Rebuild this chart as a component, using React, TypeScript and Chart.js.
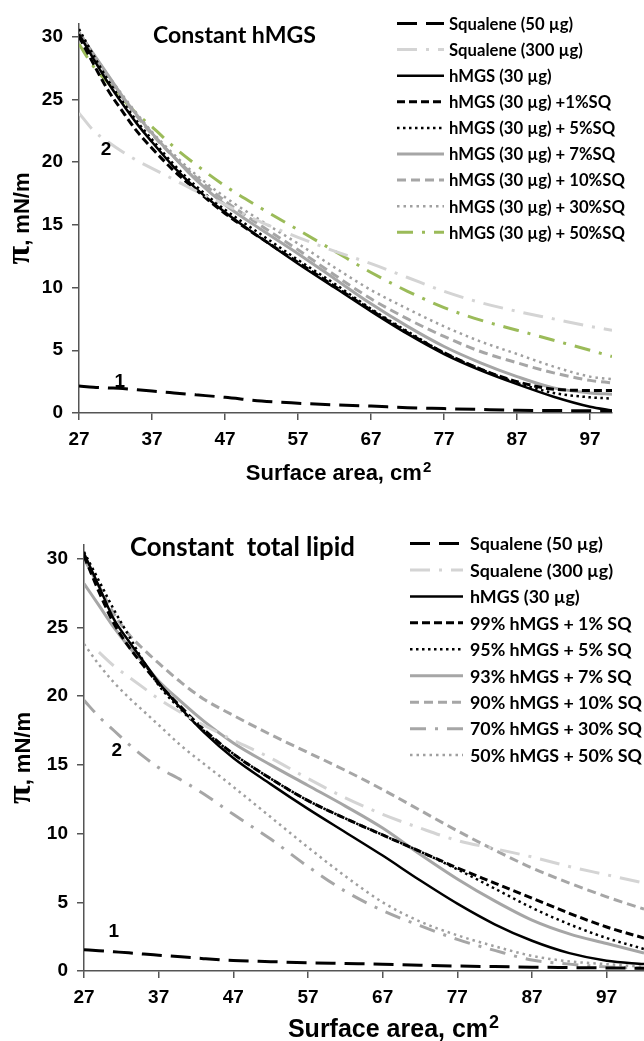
import React, { useEffect, useRef } from 'react';
import { Chart, registerables } from 'chart.js';
Chart.register(...registerables);

// ---------- data: top chart (Constant hMGS) ----------
const topX = [27, 29, 31, 33, 35, 37, 40, 43, 47, 52, 57, 62, 67, 72, 77, 82, 87, 92, 97, 100];
const topSq50 = [2.15, 2.05, 2.0, 1.95, 1.85, 1.75, 1.6, 1.45, 1.25, 0.95, 0.78, 0.65, 0.55, 0.42, 0.35, 0.28, 0.22, 0.2, 0.18, 0.18];
const topSq300 = [23.9, 22.5, 21.6, 20.8, 20.1, 19.5, 18.6, 17.7, 16.6, 15.2, 14.0, 12.9, 11.9, 10.8, 9.7, 8.8, 8.1, 7.5, 6.9, 6.6];
const topHmgs = [30.2, 28.2, 26.3, 24.6, 23.0, 21.6, 19.6, 17.9, 16.0, 13.9, 11.9, 10.0, 8.1, 6.3, 4.7, 3.4, 2.3, 1.3, 0.5, 0.2];
const topSq1 = [30.0, 27.8, 25.7, 24.0, 22.4, 21.1, 19.3, 17.8, 15.9, 13.9, 12.0, 10.1, 8.2, 6.4, 4.8, 3.5, 2.5, 1.9, 1.8, 1.8];
const topSq5 = [30.6, 28.5, 26.5, 24.8, 23.2, 21.8, 19.8, 18.1, 16.2, 14.2, 12.2, 10.3, 8.3, 6.5, 4.8, 3.5, 2.4, 1.6, 1.25, 1.15];
const topSq7 = [30.3, 28.6, 26.9, 25.2, 23.7, 22.3, 20.4, 18.6, 16.6, 14.6, 12.7, 10.7, 8.7, 6.9, 5.3, 4.0, 2.9, 2.0, 1.6, 1.5];
const topSq10 = [30.1, 28.4, 26.7, 25.1, 23.6, 22.2, 20.4, 18.8, 16.9, 14.9, 13.0, 11.0, 9.1, 7.5, 6.1, 4.9, 4.0, 3.2, 2.6, 2.4];
const topSq30 = [30.4, 28.6, 26.9, 25.3, 23.8, 22.4, 20.6, 19.0, 17.2, 15.3, 13.5, 11.6, 9.8, 8.3, 6.9, 5.7, 4.7, 3.7, 2.9, 2.7];
const topSq50p = [29.4, 27.6, 26.3, 25.0, 23.8, 22.8, 21.2, 19.8, 18.1, 16.3, 14.6, 12.9, 11.2, 9.7, 8.4, 7.4, 6.6, 5.8, 5.0, 4.5];
const topLabels = ['Squalene (50 µg)', 'Squalene (300 µg)', 'hMGS (30 µg)', 'hMGS (30 µg) +1%SQ', 'hMGS (30 µg) + 5%SQ', 'hMGS (30 µg) + 7%SQ', 'hMGS (30 µg) + 10%SQ', 'hMGS (30 µg) + 30%SQ', 'hMGS (30 µg) + 50%SQ'];
const topNotes = ['2', '1'];
const topNoteX = [30.7, 32.6];
const topNoteY = [21.0, 2.5];

// ---------- data: bottom chart (Constant total lipid) ----------
const botX = [27, 29, 31, 33, 35, 37, 40, 43, 47, 52, 57, 62, 67, 72, 77, 82, 87, 92, 97, 102];
const botSq50 = [1.55, 1.48, 1.4, 1.32, 1.23, 1.15, 1.03, 0.9, 0.76, 0.68, 0.6, 0.55, 0.5, 0.42, 0.36, 0.32, 0.28, 0.25, 0.22, 0.2];
const botSq300 = [null, 23.2, 22.2, 21.4, 20.6, 19.8, 18.8, 17.9, 16.8, 15.5, 14.0, 12.6, 11.4, 10.4, 9.5, 8.9, 8.3, 7.6, 7.0, 6.4];
const botHmgs = [30.4, 28.0, 25.6, 24.0, 22.5, 21.0, 19.1, 17.4, 15.5, 13.6, 11.8, 10.1, 8.4, 6.6, 4.9, 3.4, 2.2, 1.3, 0.75, 0.5];
const bot99 = [30.2, 27.6, 25.3, 23.6, 22.2, 20.9, 19.2, 17.6, 15.8, 14.0, 12.4, 11.1, 9.9, 8.7, 7.5, 6.4, 5.3, 4.2, 3.2, 2.4];
const bot95 = [30.5, 28.4, 26.3, 24.4, 22.5, 20.8, 19.0, 17.5, 15.8, 14.0, 12.4, 11.1, 9.9, 8.7, 7.4, 6.0, 4.6, 3.4, 2.4, 1.6];
const bot93 = [28.2, 26.6, 25.0, 23.6, 22.4, 21.1, 19.6, 18.2, 16.6, 15.0, 13.5, 12.0, 10.4, 8.5, 6.7, 5.1, 3.7, 2.7, 2.0, 1.3];
const bot90 = [30.0, 28.0, 26.0, 24.5, 23.4, 22.4, 21.0, 19.8, 18.6, 17.2, 15.9, 14.6, 13.2, 11.7, 10.2, 8.8, 7.5, 6.4, 5.4, 4.5];
const bot70 = [19.7, 18.5, 17.5, 16.5, 15.6, 14.8, 13.9, 12.9, 11.4, 9.6, 7.6, 5.8, 4.4, 3.3, 2.3, 1.5, 0.8, 0.5, 0.3, 0.2];
const bot50 = [23.8, 22.3, 21.0, 19.9, 18.9, 17.9, 16.4, 15.1, 13.4, 11.2, 9.0, 6.9, 5.0, 3.6, 2.6, 1.8, 1.1, 0.7, 0.5, 0.3];
const botLabels = ['Squalene (50 µg)', 'Squalene (300 µg)', 'hMGS (30 µg)', '99% hMGS + 1% SQ', '95% hMGS + 5% SQ', '93% hMGS + 7% SQ', '90% hMGS + 10% SQ', '70% hMGS + 30% SQ', '50% hMGS + 50% SQ'];
const botNotes = ['2', '1'];
const botNoteX = [31.4, 31.0];
const botNoteY = [16.0, 2.85];

// ---------- shared axis ticks ----------
const xTicks = [27, 37, 47, 57, 67, 77, 87, 97];
const yTicks = [0, 5, 10, 15, 20, 25, 30];

// ---------- styles ----------
const BLACK = '#000000';
const GRAY = '#a6a6a6';
const LGRAY = '#d4d4d4';
const DGRAY_DOT = '#a0a0a0';
const GREEN = '#9bbb59';
const styleSq50 = { color: BLACK, dash: [20, 9], width: 3 };
const styleSq300 = { color: LGRAY, dash: [20, 9, 3, 9], width: 3 };
const styleSolid = { color: BLACK, dash: [], width: 2.5 };
const styleDash = { color: BLACK, dash: [8, 4], width: 3 };
const styleDot = { color: BLACK, dash: [2.5, 3.5], width: 2.5 };
const styleGSolid = { color: GRAY, dash: [], width: 3 };
const styleGDash = { color: GRAY, dash: [9, 5], width: 3 };
const styleGDot = { color: DGRAY_DOT, dash: [2.5, 4], width: 2.5 };
const styleGreen = { color: GREEN, dash: [16, 9, 3, 9], width: 3 };
const styleGDashDot = { color: GRAY, dash: [16, 9, 3, 9], width: 3 };

const AXIS_FONT = '"Liberation Sans", Arial, sans-serif';
const LEG_FONT = 'Lato, "Open Sans", sans-serif';

type Cfg = {
  x: number[];
  series: { label: string; values: (number | null)[]; style: any }[];
  xMax: number;
  height: number;
  area: { left: number; right: number; top: number; bottom: number };
  title: string; titleX: number; titleY: number; titleWidth: number;
  legX0: number; legX1: number; legTextX: number; legY: number; legStep: number; legWidth: number;
  notes: string[]; noteX: number[]; noteY: number[];
  xTitleX: number; xTitleY: number; xTitleSize: number;
  yTitleX: number;
};

function fitSize(ctx: CanvasRenderingContext2D, texts: string[], family: string, target: number) {
  ctx.font = `bold 20px ${family}`;
  const w = Math.max(...texts.map((t) => ctx.measureText(t).width));
  return (20 * target) / w;
}

function buildChart(canvas: HTMLCanvasElement, cfg: Cfg) {
  const W = 644;
  const datasets = cfg.series.map((s) => ({
    label: s.label,
    data: cfg.x
      .map((xv, i) => ({ x: xv, y: s.values[i] }))
      .filter((p) => p.y !== null && p.y !== undefined),
    borderColor: s.style.color,
    backgroundColor: s.style.color,
    borderDash: s.style.dash,
    borderWidth: s.style.width,
    pointRadius: 0,
    fill: false,
    cubicInterpolationMode: 'monotone' as const,
    spanGaps: true,
  }));

  const overlay = {
    id: 'overlay',
    afterDraw(chart: any) {
      const ctx = chart.ctx as CanvasRenderingContext2D;
      const ca = chart.chartArea;
      ctx.save();
      ctx.fillStyle = '#000';
      ctx.textBaseline = 'middle';
      ctx.textAlign = 'left';
      // title
      const tSize = fitSize(ctx, [cfg.title], LEG_FONT, cfg.titleWidth);
      ctx.font = `bold ${tSize}px ${LEG_FONT}`;
      ctx.fillText(cfg.title, cfg.titleX, cfg.titleY);
      // legend
      const labels = chart.data.datasets.map((d: any) => d.label);
      const lSize = fitSize(ctx, labels, LEG_FONT, cfg.legWidth);
      ctx.font = `bold ${lSize}px ${LEG_FONT}`;
      chart.data.datasets.forEach((ds: any, i: number) => {
        const y = cfg.legY + i * cfg.legStep;
        ctx.save();
        ctx.beginPath();
        ctx.setLineDash(ds.borderDash || []);
        ctx.strokeStyle = ds.borderColor;
        ctx.lineWidth = ds.borderWidth;
        ctx.moveTo(cfg.legX0, y);
        ctx.lineTo(cfg.legX1, y);
        ctx.stroke();
        ctx.restore();
        ctx.fillText(ds.label, cfg.legTextX, y + 1);
      });
      // curve number notes
      const xs = chart.scales.x;
      const ys = chart.scales.y;
      ctx.font = `bold 19px ${AXIS_FONT}`;
      ctx.textAlign = 'center';
      cfg.notes.forEach((t, i) => {
        ctx.fillText(t, xs.getPixelForValue(cfg.noteX[i]), ys.getPixelForValue(cfg.noteY[i]));
      });
      // x axis title
      ctx.textBaseline = 'alphabetic';
      ctx.font = `bold ${cfg.xTitleSize}px ${AXIS_FONT}`;
      const base = 'Surface area, cm';
      const wBase = ctx.measureText(base).width;
      const supSize = Math.round(cfg.xTitleSize * 0.7);
      ctx.font = `bold ${supSize}px ${AXIS_FONT}`;
      const wSup = ctx.measureText('2').width;
      const startX = cfg.xTitleX - (wBase + wSup) / 2;
      ctx.textAlign = 'left';
      ctx.font = `bold ${cfg.xTitleSize}px ${AXIS_FONT}`;
      ctx.fillText(base, startX, cfg.xTitleY);
      ctx.font = `bold ${supSize}px ${AXIS_FONT}`;
      ctx.fillText('2', startX + wBase + 1, cfg.xTitleY - cfg.xTitleSize * 0.36);
      // y axis title (rotated)
      const cy = (ca.top + ca.bottom) / 2;
      ctx.translate(cfg.yTitleX, cy);
      ctx.rotate(-Math.PI / 2);
      ctx.textBaseline = 'middle';
      const piFont = `bold 34px "Liberation Serif", "DejaVu Serif", serif`;
      ctx.font = piFont;
      const wPi = ctx.measureText('π').width;
      ctx.font = `bold 22px ${AXIS_FONT}`;
      const wRest = ctx.measureText(', mN/m').width;
      const sx = -(wPi + wRest) / 2;
      ctx.font = piFont;
      ctx.fillText('π', sx, -1);
      ctx.font = `bold 22px ${AXIS_FONT}`;
      ctx.fillText(', mN/m', sx + wPi, 2);
      ctx.restore();
    },
  };

  const axisColor = '#555555';
  return new Chart(canvas, {
    type: 'line',
    data: { datasets },
    plugins: [overlay],
    options: {
      animation: false,
      responsive: false,
      devicePixelRatio: 1,
      layout: {
        padding: {
          left: 0,
          top: cfg.area.top,
          right: W - cfg.area.right,
          bottom: 0,
        },
      },
      plugins: { legend: { display: false }, tooltip: { enabled: false }, title: { display: false } },
      scales: {
        x: {
          type: 'linear',
          min: 27,
          max: cfg.xMax,
          afterFit: (s: any) => { s.height = cfg.height - cfg.area.bottom; },
          afterBuildTicks: (s: any) => { s.ticks = xTicks.map((v) => ({ value: v })); },
          ticks: { color: '#000', font: { family: AXIS_FONT, size: 19, weight: 'bold' }, padding: 8, maxRotation: 0, autoSkip: false },
          grid: { display: true, drawOnChartArea: false, drawTicks: true, tickLength: 7, color: axisColor, lineWidth: 1.5 },
          border: { display: true, color: axisColor, width: 1.5 },
        },
        y: {
          type: 'linear',
          min: 0,
          max: 31,
          afterFit: (s: any) => { s.width = cfg.area.left; },
          afterBuildTicks: (s: any) => { s.ticks = yTicks.map((v) => ({ value: v })); },
          ticks: { color: '#000', font: { family: AXIS_FONT, size: 19, weight: 'bold' }, padding: 9 },
          grid: { display: true, drawOnChartArea: false, drawTicks: true, tickLength: 7, color: axisColor, lineWidth: 1.5 },
          border: { display: true, color: axisColor, width: 1.5 },
        },
      },
    } as any,
  });
}

const topCfg: Cfg = {
  x: topX,
  series: [
    { label: topLabels[0], values: topSq50, style: styleSq50 },
    { label: topLabels[1], values: topSq300, style: styleSq300 },
    { label: topLabels[2], values: topHmgs, style: styleSolid },
    { label: topLabels[3], values: topSq1, style: styleDash },
    { label: topLabels[4], values: topSq5, style: styleDot },
    { label: topLabels[5], values: topSq7, style: styleGSolid },
    { label: topLabels[6], values: topSq10, style: styleGDash },
    { label: topLabels[7], values: topSq30, style: styleGDot },
    { label: topLabels[8], values: topSq50p, style: styleGreen },
  ],
  xMax: 100,
  height: 500,
  area: { left: 79, right: 612, top: 24, bottom: 413 },
  title: 'Constant hMGS', titleX: 153, titleY: 36, titleWidth: 163,
  legX0: 397, legX1: 444, legTextX: 449, legY: 23.5, legStep: 26.1, legWidth: 176,
  notes: topNotes, noteX: topNoteX, noteY: topNoteY,
  xTitleX: 338, xTitleY: 480, xTitleSize: 22,
  yTitleX: 21,
};

const botCfg: Cfg = {
  x: botX,
  series: [
    { label: botLabels[0], values: botSq50, style: styleSq50 },
    { label: botLabels[1], values: botSq300, style: styleSq300 },
    { label: botLabels[2], values: botHmgs, style: styleSolid },
    { label: botLabels[3], values: bot99, style: styleDash },
    { label: botLabels[4], values: bot95, style: styleDot },
    { label: botLabels[5], values: bot93, style: styleGSolid },
    { label: botLabels[6], values: bot90, style: styleGDash },
    { label: botLabels[7], values: bot70, style: styleGDashDot },
    { label: botLabels[8], values: bot50, style: styleGDot },
  ],
  xMax: 102,
  height: 541,
  area: { left: 84, right: 644, top: 45, bottom: 471 },
  title: 'Constant  total lipid', titleX: 130, titleY: 48, titleWidth: 225,
  legX0: 410, legX1: 463, legTextX: 470, legY: 43.5, legStep: 26.45, legWidth: 172,
  notes: botNotes, noteX: botNoteX, noteY: botNoteY,
  xTitleX: 393, xTitleY: 537, xTitleSize: 25,
  yTitleX: 22,
};

function ChartCanvas({ cfg, top }: { cfg: Cfg; top: number }) {
  const ref = useRef<HTMLCanvasElement | null>(null);
  useEffect(() => {
    if (!ref.current) return;
    const c = buildChart(ref.current, cfg);
    return () => c.destroy();
  }, [cfg]);
  return (
    <canvas
      ref={ref}
      width={644}
      height={cfg.height}
      style={{ position: 'absolute', left: 0, top, width: 644, height: cfg.height, display: 'block' }}
    />
  );
}

export default function App() {
  return (
    <div style={{ position: 'absolute', left: 0, top: 0, width: 644, height: 1041, background: '#fff', overflow: 'hidden' }}>
      <ChartCanvas cfg={topCfg} top={0} />
      <ChartCanvas cfg={botCfg} top={500} />
    </div>
  );
}
